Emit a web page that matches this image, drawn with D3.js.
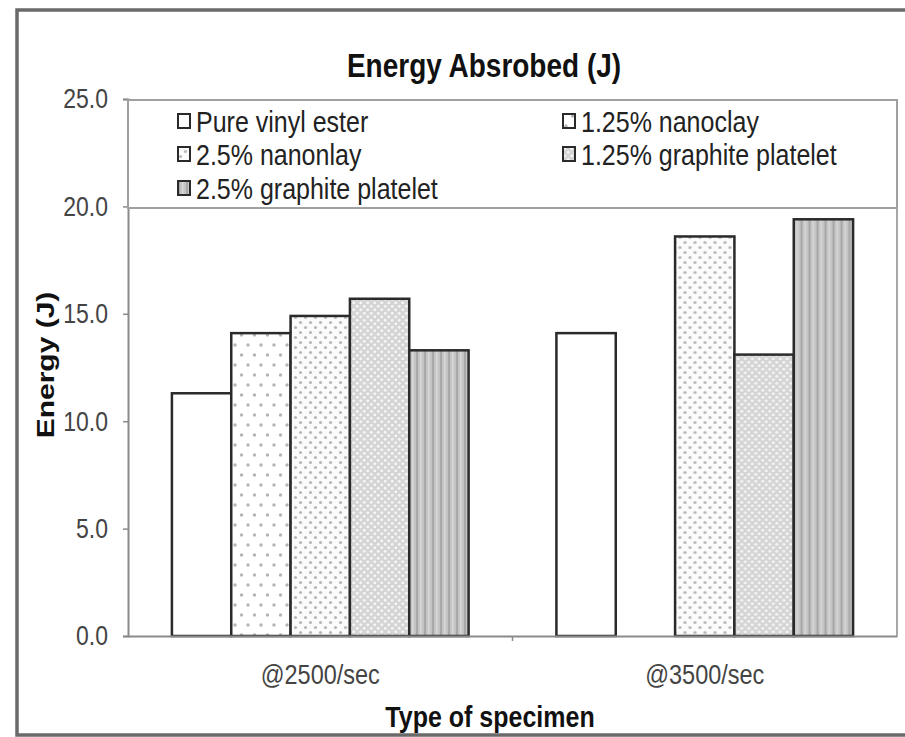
<!DOCTYPE html>
<html>
<head>
<meta charset="utf-8">
<script src="https://cdn.jsdelivr.net/npm/d3@7"></script>
<style>
  html, body { margin: 0; padding: 0; overflow: hidden; background: #fff; }
  svg { display: block; }
  text { font-family: "Liberation Sans", Arial, sans-serif; }
</style>
</head>
<body>
<div id="chart"></div>
<script>
// Data
const categories = ['@2500/sec', '@3500/sec'];
const seriesNames = ['Pure vinyl ester', '1.25% nanoclay', '2.5% nanonlay', '1.25% graphite platelet', '2.5% graphite platelet'];
const pureVinyl = [11.3, 14.1];
const nanoclay125 = [14.1, null];
const nanoclay25 = [14.9, 18.6];
const graphite125 = [15.7, 13.1];
const graphite25 = [13.3, 19.4];
const yTicks = [0, 5, 10, 15, 20, 25];

const seriesValues = [pureVinyl, nanoclay125, nanoclay25, graphite125, graphite25];
const patternIds = ['p0', 'p1', 'p2', 'p3', 'p4'];

const width = 905;
const height = 737;
const plot = { left: 128, right: 897, top: 99, bottom: 636 };
const stretch = 1.2; // the source picture is stretched vertically

const svg = d3.select('#chart')
  .append('svg')
  .attr('width', width)
  .attr('height', height);

// Fill patterns
const defs = svg.append('defs');

const p0 = defs.append('pattern').attr('id', 'p0').attr('patternUnits', 'userSpaceOnUse')
  .attr('width', 8).attr('height', 8);
p0.append('rect').attr('width', 8).attr('height', 8).attr('fill', '#fff');

const p1 = defs.append('pattern').attr('id', 'p1').attr('patternUnits', 'userSpaceOnUse')
  .attr('width', 13).attr('height', 20);
p1.append('rect').attr('width', 13).attr('height', 20).attr('fill', '#fff');
[[3, 5], [9.5, 15]].forEach(([cx, cy]) => {
  p1.append('circle').attr('cx', cx).attr('cy', cy).attr('r', 1.7).attr('fill', '#b5b5b5');
});

const p2 = defs.append('pattern').attr('id', 'p2').attr('patternUnits', 'userSpaceOnUse')
  .attr('width', 10).attr('height', 10);
p2.append('rect').attr('width', 10).attr('height', 10).attr('fill', '#fbfbfb');
[[2.5, 2.5], [7.5, 7.5]].forEach(([cx, cy]) => {
  p2.append('circle').attr('cx', cx).attr('cy', cy).attr('r', 1.6).attr('fill', '#b8b8b8');
});

const p3 = defs.append('pattern').attr('id', 'p3').attr('patternUnits', 'userSpaceOnUse')
  .attr('width', 7).attr('height', 7);
p3.append('rect').attr('width', 7).attr('height', 7).attr('fill', '#d4d4d4');
[[1.75, 1.75], [5.25, 5.25]].forEach(([cx, cy]) => {
  p3.append('circle').attr('cx', cx).attr('cy', cy).attr('r', 1.5).attr('fill', '#f4f4f4');
});

const p4 = defs.append('pattern').attr('id', 'p4').attr('patternUnits', 'userSpaceOnUse')
  .attr('width', 8).attr('height', 8);
p4.append('rect').attr('width', 8).attr('height', 8).attr('fill', '#c4c4c4');
p4.append('rect').attr('x', 0).attr('width', 2).attr('height', 8).attr('fill', '#a8a8a8');
p4.append('rect').attr('x', 4).attr('width', 1.5).attr('height', 8).attr('fill', '#d8d8d8');

// Outer frame: top, left and bottom only (right side runs off the picture)
svg.append('path')
  .attr('d', `M${width + 10},10 H17 V735 H${width + 10}`)
  .attr('fill', 'none')
  .attr('stroke', '#6a6a6a')
  .attr('stroke-width', 3.5);

// Scales
const x0 = d3.scaleBand()
  .domain(categories)
  .range([plot.left, plot.right])
  .paddingInner(0)
  .paddingOuter(0);

const x1 = d3.scaleBand()
  .domain(d3.range(seriesNames.length))
  .range([0, x0.bandwidth()])
  .paddingInner(0)
  .paddingOuter(0.74);

const y = d3.scaleLinear()
  .domain([0, 25])
  .range([plot.bottom, plot.top]);

// Plot area right border
svg.append('line')
  .attr('x1', plot.right).attr('x2', plot.right)
  .attr('y1', plot.top).attr('y2', plot.bottom)
  .attr('stroke', '#a8a8a8')
  .attr('stroke-width', 2);

// Y axis
const yAxis = svg.append('g')
  .attr('transform', `translate(${plot.left},0)`)
  .call(d3.axisLeft(y).tickValues(yTicks).tickFormat(d3.format('.1f')).tickSize(5).tickPadding(15));
yAxis.select('.domain').attr('stroke', '#8a8a8a').attr('stroke-width', 2);
yAxis.selectAll('.tick line').attr('stroke', '#8a8a8a').attr('stroke-width', 1.5);
yAxis.selectAll('.tick text')
  .attr('font-size', 23)
  .attr('fill', '#444')
  .attr('transform', `scale(1,${stretch})`)
  .style('font-family', '"Liberation Sans", Arial, sans-serif');

// Bars
const groups = svg.selectAll('.group')
  .data(categories)
  .enter()
  .append('g')
  .attr('class', 'group')
  .attr('transform', (d) => `translate(${x0(d)},0)`);

groups.selectAll('rect')
  .data((d, ci) => seriesValues.map((vals, si) => ({ si, v: vals[ci] })).filter((d) => d.v !== null))
  .enter()
  .append('rect')
  .attr('x', (d) => x1(d.si))
  .attr('y', (d) => y(d.v))
  .attr('width', x1.bandwidth())
  .attr('height', (d) => y(0) - y(d.v))
  .attr('fill', (d) => `url(#${patternIds[d.si]})`)
  .attr('stroke', '#2a2a2a')
  .attr('stroke-width', 2.5);

// X axis (tick sits between the categories)
const xAxis = svg.append('g')
  .attr('transform', `translate(0,${plot.bottom})`)
  .call(d3.axisBottom(x0).tickSize(0).tickPadding(0));
xAxis.select('.domain').attr('stroke', '#8a8a8a').attr('stroke-width', 2);
xAxis.selectAll('.tick text')
  .attr('font-size', 23.5)
  .attr('fill', '#444')
  .attr('y', 0)
  .attr('dy', '0.35em')
  .attr('transform', `translate(0,38) scale(1,${stretch})`)
  .style('font-family', '"Liberation Sans", Arial, sans-serif');

xAxis.selectAll('.sep')
  .data(categories.slice(1))
  .enter()
  .append('line')
  .attr('class', 'sep')
  .attr('x1', (d) => x0(d))
  .attr('x2', (d) => x0(d))
  .attr('y1', 0)
  .attr('y2', 5)
  .attr('stroke', '#8a8a8a')
  .attr('stroke-width', 1.5);

// Legend (drawn over the top of the plot)
const legend = svg.append('g');
legend.append('rect')
  .attr('x', plot.left)
  .attr('y', plot.top + 1)
  .attr('width', plot.right - plot.left)
  .attr('height', 108)
  .attr('fill', '#fff')
  .attr('stroke', '#a0a0a0')
  .attr('stroke-width', 2);

const legendCols = [178, 563];
const legendRows = [121, 154, 188];

const items = legend.selectAll('.item')
  .data(seriesNames)
  .enter()
  .append('g')
  .attr('class', 'item')
  .attr('transform', (_, i) => `translate(${legendCols[i % 2]},${legendRows[Math.floor(i / 2)]})`);

items.append('rect')
  .attr('x', 0).attr('y', -7)
  .attr('width', 12).attr('height', 14)
  .attr('fill', (_, i) => `url(#${patternIds[i]})`)
  .attr('stroke', '#2a2a2a')
  .attr('stroke-width', 2);

items.append('text')
  .attr('x', 18)
  .attr('y', 0)
  .attr('dy', '0.35em')
  .attr('font-size', 25)
  .attr('fill', '#222')
  .attr('transform', `scale(1,${stretch})`)
  .text((d) => d);

// Title and axis labels
function stretchedText(x, y, size, txt) {
  return svg.append('text')
    .attr('transform', `translate(${x},${y}) scale(1,${stretch})`)
    .attr('dy', '0.35em')
    .attr('text-anchor', 'middle')
    .attr('font-size', size)
    .attr('font-weight', 'bold')
    .attr('fill', '#111')
    .text(txt);
}

stretchedText(484, 65, 28, 'Energy Absrobed (J)');
stretchedText(490, 716, 25, 'Type of specimen');

svg.append('text')
  .attr('transform', `translate(46,365) rotate(-90) scale(${stretch + 0.05},1)`)
  .attr('dy', '0.35em')
  .attr('text-anchor', 'middle')
  .attr('font-size', 24)
  .attr('font-weight', 'bold')
  .attr('fill', '#111')
  .text('Energy (J)');
</script>
</body>
</html>
